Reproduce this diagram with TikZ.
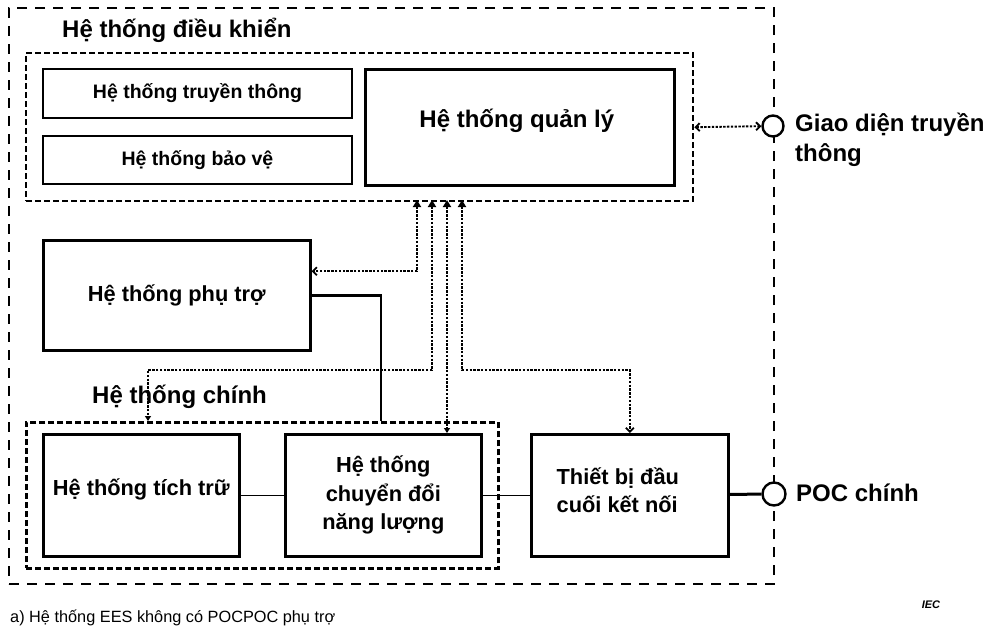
\documentclass[tikz,border=0pt]{standalone}
\usepackage{fontspec}
\setmainfont{Liberation Sans}
\usetikzlibrary{arrows.meta,calc}
\begin{document}
\begin{tikzpicture}[x=1pt,y=-1pt,
  box/.style={draw, line width=2.6pt, inner sep=0pt, anchor=north west, align=center, font=\bfseries},
  thinbox/.style={box, line width=2pt},
  groupbox/.style={draw, line width=2.4pt, dash pattern=on 6pt off 3pt, inner sep=0pt, anchor=north west},
  outerbox/.style={draw, line width=2.3pt, dash pattern=on 10pt off 8pt, inner sep=0pt, anchor=north west},
  sig/.style={line width=1.9pt, dash pattern=on 2.4pt off 1.4pt},
  tipup/.tip={Triangle[length=7pt,width=8pt]},
  barb/.tip={Straight Barb[length=4pt,width=8pt,line width=1.8pt]},
  port/.style={draw, circle, line width=2.4pt, fill=white, inner sep=0pt, minimum size=21pt},
  title/.style={anchor=west, inner sep=0pt, font=\bfseries\fontsize{24}{28}\selectfont},
  fsmall/.style={font=\bfseries\fontsize{19.5}{23}\selectfont},
  fmid/.style={font=\bfseries\fontsize{21.8}{28.5}\selectfont},
  fbig/.style={font=\bfseries\fontsize{24}{28}\selectfont}]
\useasboundingbox (0,0) rectangle (994,635);

% outer boundary
\node[outerbox, minimum width=765pt, minimum height=576pt] (outer) at (8,7) {};

% control system group
\node[groupbox, minimum width=667pt, minimum height=148pt] (ctrl) at (25,52) {};
\node[title] (tctrl) at (62,30) {Hệ thống điều khiển};
\node[thinbox, fsmall, minimum width=309pt, minimum height=49pt] (tt) at (42,68) {Hệ thống truyền thông};
\node[thinbox, fsmall, minimum width=309pt, minimum height=48pt] (bv) at (42,135) {Hệ thống bảo vệ};
\node[box, minimum width=309pt, minimum height=116pt,
  label={[fbig, xshift=-3pt, yshift=6pt]center:Hệ thống quản lý}] (qly) at (364,68) {};

% auxiliary
\node[box, fmid, minimum width=267pt, minimum height=110pt] (phutro) at (42,239) {Hệ thống phụ trợ};

% main system group
\node[groupbox, line width=2.8pt, minimum width=472pt, minimum height=146pt] (main) at (25,421) {};
\node[title] (tmain) at (92,397) {Hệ thống chính};
\node[box, minimum width=196pt, minimum height=122pt,
  label={[fmid, yshift=6pt]center:Hệ thống tích trữ}] (tich) at (42,433) {};
\node[box, fmid, minimum width=196pt, minimum height=122pt] (conv) at (284,433) {Hệ thống\\chuyển đổi\\năng lượng};
\node[box, minimum width=197pt, minimum height=122pt,
  label={[fmid, align=left, xshift=-12pt, yshift=5pt]center:Thiết bị đầu\\cuối kết nối}] (term) at (530,433) {};

% ports
\node[port] (giao) at (773,126) {};
\node[port, minimum size=23pt] (poc) at (774,494) {};
\node[anchor=west, inner sep=0pt, align=left, font=\bfseries\fontsize{24}{30}\selectfont] (tgiao) at (795,140) {Giao diện truyền\\thông};
\node[anchor=west, inner sep=0pt, font=\bfseries\fontsize{24}{28}\selectfont] (tpoc) at (796,493) {POC chính};

% control signal lines
\coordinate (u1) at (417,200);
\coordinate (u2) at (432,200);
\coordinate (u3) at (447,200);
\coordinate (u4) at (462,200);
\draw[sig, tipup-barb] (u1) |- ([yshift=24pt]phutro.east);
\draw[sig, tipup-{Triangle[length=5pt,width=6pt]}] (u2) -- (432,370) -- (148,370) -- ($(main.north west)+(123,0)$);
\draw[sig, tipup-{Triangle[length=5pt,width=6pt]}] (u3) -- (conv.north -| u3);
\draw[sig, tipup-barb] (u4) -- (462,370) -| (term.north);
\draw[sig, barb-barb] (ctrl.east) -- (giao);

% power lines
\draw[line width=2.8pt] (phutro.east) -| ($(main.north west)+(356,0)$);
\draw[line width=1.5pt] (tich) -- (conv);
\draw[line width=1.5pt] (conv) -- (term);
\draw[line width=3pt] (term) -- (poc);

% caption
\node[anchor=west, inner sep=0pt, font=\fontsize{16.3}{19}\selectfont] (cap) at (10,618) {a) Hệ thống EES không có POCPOC phụ trợ};
\node[inner sep=0pt, font=\bfseries\itshape\fontsize{11}{12}\selectfont] (iec) at (931,605) {IEC};
\end{tikzpicture}
\end{document}
